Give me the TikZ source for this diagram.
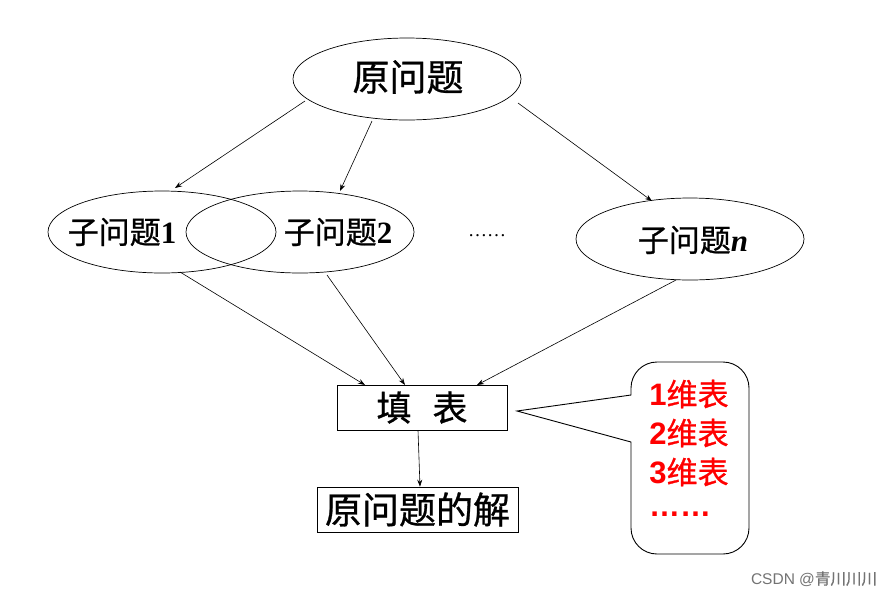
\documentclass[tikz,border=0pt]{standalone}
\usepackage{fontspec}
\setmainfont{Liberation Serif}
\newfontfamily\cjk[FakeBold=0.8]{Noto Sans CJK SC}
\newfontfamily\arialf{Liberation Sans}
\usetikzlibrary{shapes.geometric,arrows.meta}
\begin{document}
\begin{tikzpicture}[x=1pt,y=-1pt,
  ell/.style={draw,ellipse,minimum width=228pt,minimum height=82pt,inner sep=0pt,line width=0.7pt},
  boxn/.style={draw,rectangle,inner sep=0pt,line width=0.7pt},
  arr/.style={-{Stealth[length=7pt,width=5pt]},line width=0.6pt},
  lab/.style={inner sep=0pt,font=\fontsize{31}{33}\selectfont},
  red/.style={inner sep=0pt,text=red,font=\fontsize{31}{33}\selectfont\bfseries\arialf}]
\path[use as bounding box] (0,0) rectangle (896,598);
% ellipses
\node[ell] (top) at (407,79) {};
\node[inner sep=0pt,font=\fontsize{37}{40}\selectfont\cjk] at (408,77) {原问题};
\node[ell] (s1) at (162,232) {};
\node[ell] (s2) at (300,232) {};
\node[ell] (sn) at (690,239) {};
\node[lab] at (122,232) {{\cjk 子问题}\textbf{1}};
\node[lab] at (338,232) {{\cjk 子问题}\textbf{2}};
\node[lab] at (693,240) {{\cjk 子问题}\textbf{\textit{n}}};
\node[inner sep=0pt,font=\fontsize{19}{19}\selectfont] (dots) at (487,236) {……};
% boxes
\node[boxn,minimum width=170pt,minimum height=45pt,font=\fontsize{35}{37}\selectfont\cjk] (fill) at (422,407.5) {填\hspace{0.6em}表};
\node[boxn,minimum width=201pt,minimum height=45pt,font=\fontsize{37}{39}\selectfont\cjk] (sol) at (417.5,509.5) {原问题的解};
% arrows
\coordinate (a1) at (305,101); \coordinate (b1) at (175,188);
\coordinate (a2) at (372,121); \coordinate (b2) at (340,191);
\coordinate (a3) at (518,103); \coordinate (b3) at (652,201);
\coordinate (c1) at (180,272); \coordinate (c2) at (327,275); \coordinate (c3) at (676,280);
\coordinate (d1) at (365,385); \coordinate (d2) at (405,385); \coordinate (d3) at (477,385);
\draw[arr] (a1) -- (b1);
\draw[arr] (a2) -- (b2);
\draw[arr] (a3) -- (b3);
\draw[arr] (c1) -- (d1);
\draw[arr] (c2) -- (d2);
\draw[arr] (c3) -- (d3);
\draw[arr] (fill.south -| 418,0) -- (sol.north -| 420,0);
% callout
\coordinate (tip) at (517,411);
\draw[line width=0.9pt] (631,442) [rounded corners=26pt]-- (631,554) -- (749,554) -- (749,362) -- (631,362) [sharp corners]-- (631,395) -- (tip) -- cycle;
\node[red] (r1) at (689,394) {1{\mdseries\cjk 维表}};
\node[red] (r2) at (689,433) {2{\mdseries\cjk 维表}};
\node[red] (r3) at (689,472) {3{\mdseries\cjk 维表}};
\node[red] (r4) at (680,514) {……};
% watermark
\node[inner sep=0pt,text=black!55,font=\fontsize{15.5}{15.5}\selectfont\arialf] (wm) at (814,579) {CSDN @{\cjk 青川川川}};
\end{tikzpicture}
\end{document}
